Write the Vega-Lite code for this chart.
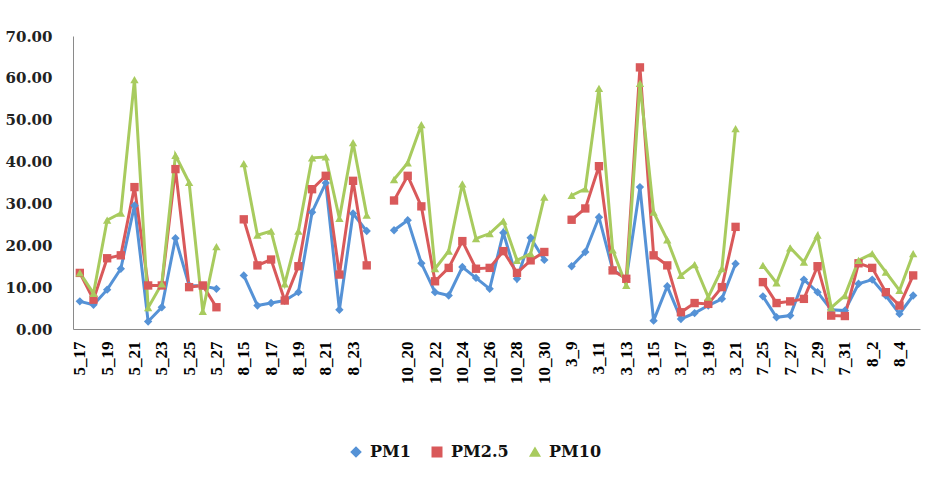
{
  "$schema": "https://vega.github.io/schema/vega-lite/v6.json",
  "width": 847,
  "height": 293,
  "autosize": "none",
  "padding": {"left": 73, "top": 36, "right": 22, "bottom": 148},
  "background": "white",
  "config": {"view": {"stroke": null}},
  "data": {"values": [
    {"d":"5_17","g":1,"s":"PM1","v":6.6},{"d":"5_18","g":1,"s":"PM1","v":5.8},{"d":"5_19","g":1,"s":"PM1","v":9.4},{"d":"5_20","g":1,"s":"PM1","v":14.4},{"d":"5_21","g":1,"s":"PM1","v":29.5},{"d":"5_22","g":1,"s":"PM1","v":1.8},{"d":"5_23","g":1,"s":"PM1","v":5.2},{"d":"5_24","g":1,"s":"PM1","v":21.7},{"d":"5_25","g":1,"s":"PM1","v":10.4},{"d":"5_26","g":1,"s":"PM1","v":10.3},{"d":"5_27","g":1,"s":"PM1","v":9.6},
    {"d":"5_17","g":1,"s":"PM2.5","v":13.4},{"d":"5_18","g":1,"s":"PM2.5","v":7.0},{"d":"5_19","g":1,"s":"PM2.5","v":16.9},{"d":"5_20","g":1,"s":"PM2.5","v":17.6},{"d":"5_21","g":1,"s":"PM2.5","v":33.9},{"d":"5_22","g":1,"s":"PM2.5","v":10.4},{"d":"5_23","g":1,"s":"PM2.5","v":10.4},{"d":"5_24","g":1,"s":"PM2.5","v":38.2},{"d":"5_25","g":1,"s":"PM2.5","v":10.0},{"d":"5_26","g":1,"s":"PM2.5","v":10.4},{"d":"5_27","g":1,"s":"PM2.5","v":5.2},
    {"d":"5_17","g":1,"s":"PM10","v":13.4},{"d":"5_18","g":1,"s":"PM10","v":8.5},{"d":"5_19","g":1,"s":"PM10","v":26.0},{"d":"5_20","g":1,"s":"PM10","v":27.7},{"d":"5_21","g":1,"s":"PM10","v":59.6},{"d":"5_22","g":1,"s":"PM10","v":5.1},{"d":"5_23","g":1,"s":"PM10","v":10.8},{"d":"5_24","g":1,"s":"PM10","v":41.5},{"d":"5_25","g":1,"s":"PM10","v":35.0},{"d":"5_26","g":1,"s":"PM10","v":4.2},{"d":"5_27","g":1,"s":"PM10","v":19.7},
    {"d":"8_15","g":2,"s":"PM1","v":12.8},{"d":"8_16","g":2,"s":"PM1","v":5.6},{"d":"8_17","g":2,"s":"PM1","v":6.2},{"d":"8_18","g":2,"s":"PM1","v":6.8},{"d":"8_19","g":2,"s":"PM1","v":8.8},{"d":"8_20","g":2,"s":"PM1","v":27.9},{"d":"8_21","g":2,"s":"PM1","v":34.9},{"d":"8_22","g":2,"s":"PM1","v":4.6},{"d":"8_23","g":2,"s":"PM1","v":27.6},{"d":"8_24","g":2,"s":"PM1","v":23.4},
    {"d":"8_15","g":2,"s":"PM2.5","v":26.2},{"d":"8_16","g":2,"s":"PM2.5","v":15.2},{"d":"8_17","g":2,"s":"PM2.5","v":16.6},{"d":"8_18","g":2,"s":"PM2.5","v":6.8},{"d":"8_19","g":2,"s":"PM2.5","v":15.0},{"d":"8_20","g":2,"s":"PM2.5","v":33.4},{"d":"8_21","g":2,"s":"PM2.5","v":36.6},{"d":"8_22","g":2,"s":"PM2.5","v":13.0},{"d":"8_23","g":2,"s":"PM2.5","v":35.4},{"d":"8_24","g":2,"s":"PM2.5","v":15.2},
    {"d":"8_15","g":2,"s":"PM10","v":39.5},{"d":"8_16","g":2,"s":"PM10","v":22.4},{"d":"8_17","g":2,"s":"PM10","v":23.4},{"d":"8_18","g":2,"s":"PM10","v":10.8},{"d":"8_19","g":2,"s":"PM10","v":23.4},{"d":"8_20","g":2,"s":"PM10","v":40.9},{"d":"8_21","g":2,"s":"PM10","v":41.1},{"d":"8_22","g":2,"s":"PM10","v":26.4},{"d":"8_23","g":2,"s":"PM10","v":44.5},{"d":"8_24","g":2,"s":"PM10","v":27.2},
    {"d":"10_19","g":3,"s":"PM1","v":23.6},{"d":"10_20","g":3,"s":"PM1","v":26.0},{"d":"10_21","g":3,"s":"PM1","v":15.7},{"d":"10_22","g":3,"s":"PM1","v":8.8},{"d":"10_23","g":3,"s":"PM1","v":8.0},{"d":"10_24","g":3,"s":"PM1","v":14.8},{"d":"10_25","g":3,"s":"PM1","v":12.2},{"d":"10_26","g":3,"s":"PM1","v":9.6},{"d":"10_27","g":3,"s":"PM1","v":23.0},{"d":"10_28","g":3,"s":"PM1","v":12.0},{"d":"10_29","g":3,"s":"PM1","v":21.8},{"d":"10_30","g":3,"s":"PM1","v":16.5},
    {"d":"10_19","g":3,"s":"PM2.5","v":30.7},{"d":"10_20","g":3,"s":"PM2.5","v":36.6},{"d":"10_21","g":3,"s":"PM2.5","v":29.3},{"d":"10_22","g":3,"s":"PM2.5","v":11.4},{"d":"10_23","g":3,"s":"PM2.5","v":14.6},{"d":"10_24","g":3,"s":"PM2.5","v":21.0},{"d":"10_25","g":3,"s":"PM2.5","v":14.4},{"d":"10_26","g":3,"s":"PM2.5","v":14.6},{"d":"10_27","g":3,"s":"PM2.5","v":18.6},{"d":"10_28","g":3,"s":"PM2.5","v":13.4},{"d":"10_29","g":3,"s":"PM2.5","v":16.4},{"d":"10_30","g":3,"s":"PM2.5","v":18.4},
    {"d":"10_19","g":3,"s":"PM10","v":35.7},{"d":"10_20","g":3,"s":"PM10","v":39.7},{"d":"10_21","g":3,"s":"PM10","v":48.8},{"d":"10_22","g":3,"s":"PM10","v":14.4},{"d":"10_23","g":3,"s":"PM10","v":18.6},{"d":"10_24","g":3,"s":"PM10","v":34.7},{"d":"10_25","g":3,"s":"PM10","v":21.6},{"d":"10_26","g":3,"s":"PM10","v":22.8},{"d":"10_27","g":3,"s":"PM10","v":25.8},{"d":"10_28","g":3,"s":"PM10","v":16.4},{"d":"10_29","g":3,"s":"PM10","v":18.0},{"d":"10_30","g":3,"s":"PM10","v":31.5},
    {"d":"3_9","g":4,"s":"PM1","v":15.0},{"d":"3_10","g":4,"s":"PM1","v":18.4},{"d":"3_11","g":4,"s":"PM1","v":26.7},{"d":"3_12","g":4,"s":"PM1","v":14.2},{"d":"3_13","g":4,"s":"PM1","v":12.0},{"d":"3_14","g":4,"s":"PM1","v":33.9},{"d":"3_15","g":4,"s":"PM1","v":2.0},{"d":"3_16","g":4,"s":"PM1","v":10.2},{"d":"3_17","g":4,"s":"PM1","v":2.4},{"d":"3_18","g":4,"s":"PM1","v":3.8},{"d":"3_19","g":4,"s":"PM1","v":5.6},{"d":"3_20","g":4,"s":"PM1","v":7.2},{"d":"3_21","g":4,"s":"PM1","v":15.6},
    {"d":"3_9","g":4,"s":"PM2.5","v":26.1},{"d":"3_10","g":4,"s":"PM2.5","v":28.8},{"d":"3_11","g":4,"s":"PM2.5","v":38.9},{"d":"3_12","g":4,"s":"PM2.5","v":14.0},{"d":"3_13","g":4,"s":"PM2.5","v":12.0},{"d":"3_14","g":4,"s":"PM2.5","v":62.5},{"d":"3_15","g":4,"s":"PM2.5","v":17.6},{"d":"3_16","g":4,"s":"PM2.5","v":15.2},{"d":"3_17","g":4,"s":"PM2.5","v":4.0},{"d":"3_18","g":4,"s":"PM2.5","v":6.2},{"d":"3_19","g":4,"s":"PM2.5","v":6.0},{"d":"3_20","g":4,"s":"PM2.5","v":10.0},{"d":"3_21","g":4,"s":"PM2.5","v":24.4},
    {"d":"3_9","g":4,"s":"PM10","v":31.9},{"d":"3_10","g":4,"s":"PM10","v":33.5},{"d":"3_11","g":4,"s":"PM10","v":57.5},{"d":"3_12","g":4,"s":"PM10","v":18.9},{"d":"3_13","g":4,"s":"PM10","v":10.4},{"d":"3_14","g":4,"s":"PM10","v":58.7},{"d":"3_15","g":4,"s":"PM10","v":27.9},{"d":"3_16","g":4,"s":"PM10","v":21.3},{"d":"3_17","g":4,"s":"PM10","v":12.8},{"d":"3_18","g":4,"s":"PM10","v":15.4},{"d":"3_19","g":4,"s":"PM10","v":7.6},{"d":"3_20","g":4,"s":"PM10","v":14.4},{"d":"3_21","g":4,"s":"PM10","v":47.9},
    {"d":"7_25","g":5,"s":"PM1","v":7.8},{"d":"7_26","g":5,"s":"PM1","v":2.8},{"d":"7_27","g":5,"s":"PM1","v":3.2},{"d":"7_28","g":5,"s":"PM1","v":11.8},{"d":"7_29","g":5,"s":"PM1","v":8.8},{"d":"7_30","g":5,"s":"PM1","v":4.6},{"d":"7_31","g":5,"s":"PM1","v":4.4},{"d":"8_1","g":5,"s":"PM1","v":10.8},{"d":"8_2","g":5,"s":"PM1","v":11.8},{"d":"8_3","g":5,"s":"PM1","v":8.0},{"d":"8_4","g":5,"s":"PM1","v":3.6},{"d":"8_5","g":5,"s":"PM1","v":8.0},
    {"d":"7_25","g":5,"s":"PM2.5","v":11.2},{"d":"7_26","g":5,"s":"PM2.5","v":6.2},{"d":"7_27","g":5,"s":"PM2.5","v":6.6},{"d":"7_28","g":5,"s":"PM2.5","v":7.2},{"d":"7_29","g":5,"s":"PM2.5","v":15.0},{"d":"7_30","g":5,"s":"PM2.5","v":3.2},{"d":"7_31","g":5,"s":"PM2.5","v":3.1},{"d":"8_1","g":5,"s":"PM2.5","v":15.7},{"d":"8_2","g":5,"s":"PM2.5","v":14.6},{"d":"8_3","g":5,"s":"PM2.5","v":8.8},{"d":"8_4","g":5,"s":"PM2.5","v":5.6},{"d":"8_5","g":5,"s":"PM2.5","v":12.8},
    {"d":"7_25","g":5,"s":"PM10","v":15.2},{"d":"7_26","g":5,"s":"PM10","v":11.0},{"d":"7_27","g":5,"s":"PM10","v":19.4},{"d":"7_28","g":5,"s":"PM10","v":16.0},{"d":"7_29","g":5,"s":"PM10","v":22.4},{"d":"7_30","g":5,"s":"PM10","v":5.1},{"d":"7_31","g":5,"s":"PM10","v":8.0},{"d":"8_1","g":5,"s":"PM10","v":16.4},{"d":"8_2","g":5,"s":"PM10","v":18.0},{"d":"8_3","g":5,"s":"PM10","v":13.6},{"d":"8_4","g":5,"s":"PM10","v":9.2},{"d":"8_5","g":5,"s":"PM10","v":18.0}
  ]},
  "encoding": {
    "x": {
      "field": "d", "type": "ordinal", "sort": null,
      "scale": {"type": "point", "padding": 0.5, "domain": ["5_17","5_18","5_19","5_20","5_21","5_22","5_23","5_24","5_25","5_26","5_27","g1","8_15","8_16","8_17","8_18","8_19","8_20","8_21","8_22","8_23","8_24","g2","10_19","10_20","10_21","10_22","10_23","10_24","10_25","10_26","10_27","10_28","10_29","10_30","g3","3_9","3_10","3_11","3_12","3_13","3_14","3_15","3_16","3_17","3_18","3_19","3_20","3_21","g4","7_25","7_26","7_27","7_28","7_29","7_30","7_31","8_1","8_2","8_3","8_4","8_5"]},
      "axis": {
        "title": null,
        "values": ["5_17","5_19","5_21","5_23","5_25","5_27","8_15","8_17","8_19","8_21","8_23","g2","10_20","10_22","10_24","10_26","10_28","10_30","3_9","3_11","3_13","3_15","3_17","3_19","3_21","7_25","7_27","7_29","7_31","8_2","8_4"],
        "labelExpr": "indexof(datum.value, 'g') == 0 ? '' : datum.value",
        "labelAngle": -90,
        "labelFont": "Liberation Serif",
        "labelFontWeight": "bold",
        "labelFontSize": 17,
        "labelColor": "#000000",
        "labelPadding": 12,
        "ticks": false,
        "domainColor": "#8a8a8a",
        "domainWidth": 1,
        "grid": false
      }
    },
    "y": {
      "field": "v", "type": "quantitative",
      "scale": {"domain": [0, 70], "nice": false},
      "axis": {
        "title": null,
        "values": [0, 10, 20, 30, 40, 50, 60, 70],
        "format": ".2f",
        "labelFont": "DejaVu Serif",
        "labelFontWeight": "bold",
        "labelFontSize": 15,
        "labelColor": "#222222",
        "labelPadding": 21,
        "ticks": false,
        "domainColor": "#8a8a8a",
        "domainWidth": 1,
        "grid": false
      }
    },
    "color": {
      "field": "s", "type": "nominal",
      "scale": {"domain": ["PM1", "PM2.5", "PM10"], "range": ["#5592d6", "#d9595a", "#a8cb5e"]},
      "legend": {
        "title": null,
        "orient": "none",
        "direction": "horizontal",
        "legendX": 275,
        "legendY": 408,
        "labelFont": "DejaVu Serif",
        "labelFontWeight": "bold",
        "labelFontSize": 16,
        "labelColor": "#111111",
        "symbolSize": 90,
        "columnPadding": 18,
        "labelOffset": 6
      }
    }
  },
  "layer": [
    {"mark": {"type": "line", "strokeWidth": 3}, "encoding": {"detail": {"field": "g", "type": "nominal"}}},
    {"mark": {"type": "point", "filled": true, "opacity": 1, "size": 70},
     "encoding": {"shape": {"field": "s", "type": "nominal", "scale": {"domain": ["PM1", "PM2.5", "PM10"], "range": ["diamond", "square", "triangle-up"]}, "legend": {"title": null}}}}
  ]
}
